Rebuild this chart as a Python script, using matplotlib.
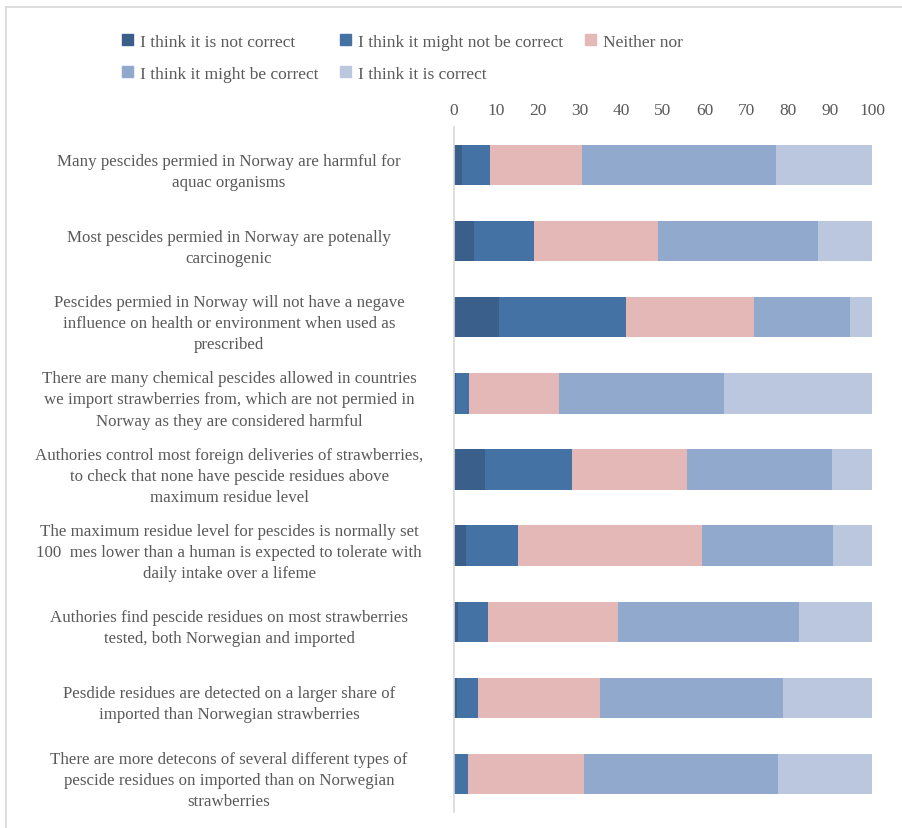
import numpy as np
import matplotlib.pyplot as plt
from matplotlib.patches import Patch
from matplotlib.lines import Line2D

#------------------------------------

statements = [
    "Many pescides permied in Norway are harmful for\naquac organisms",
    "Most pescides permied in Norway are potenally\ncarcinogenic",
    "Pescides permied in Norway will not have a negave\ninfluence on health or environment when used as\nprescribed",
    "There are many chemical pescides allowed in countries\nwe import strawberries from, which are not permied in\nNorway as they are considered harmful",
    "Authories control most foreign deliveries of strawberries,\nto check that none have pescide residues above\nmaximum residue level",
    "The maximum residue level for pescides is normally set\n100  mes lower than a human is expected to tolerate with\ndaily intake over a lifeme",
    "Authories find pescide residues on most strawberries\ntested, both Norwegian and imported",
    "Pesdide residues are detected on a larger share of\nimported than Norwegian strawberries",
    "There are more detecons of several different types of\npescide residues on imported than on Norwegian\nstrawberries",
]

answers = ["I think it is not correct", "I think it might not be correct", "Neither nor",
           "I think it might be correct", "I think it is correct"]

not_correct       = [1.9, 4.8, 10.8, 0.5, 7.4, 2.9, 1.0, 0.7, 0.3]
might_not_correct = [6.7, 14.3, 30.3, 3.1, 20.8, 12.4, 7.1, 5.0, 3.0]
neither           = [22.0, 29.7, 30.7, 21.5, 27.5, 44.0, 31.1, 29.2, 27.8]
might_correct     = [46.4, 38.3, 22.9, 39.5, 34.7, 31.4, 43.3, 43.8, 46.4]
correct           = [23.0, 12.9, 5.3, 35.4, 9.6, 9.3, 17.5, 21.3, 22.5]

colors = ["#3A5F8B", "#4472A5", "#E4B8B7", "#91A9CD", "#BAC7DF"]
grey = "#595959"

plt.rcParams['font.family'] = ['Liberation Serif', 'DejaVu Serif']

fig = plt.figure(figsize=(9.03, 8.29), dpi=100)
W, H = 903, 829
ax = fig.add_axes([454 / W, 1 - 813 / H, (872 - 454) / W, (813 - 128) / H])

series = [not_correct, might_not_correct, neither, might_correct, correct]
y = np.arange(len(statements))
left = np.zeros(len(statements))
handles = []
for vals, c, name in zip(series, colors, answers):
    ax.barh(y, vals, left=left, height=0.53, color=c, label=name)
    left += np.array(vals)
    handles.append(Patch(color=c, label=name))

ax.set_ylim(8.5, -0.5)
ax.set_xlim(0, 100)
ax.set_xticks(np.arange(0, 101, 10))
ax.xaxis.tick_top()
ax.tick_params(axis='x', length=0, pad=6.5, labelsize=12.5, colors=grey)
ax.set_yticks(y)
ax.set_yticklabels([])
ax.tick_params(axis='y', length=0)
for s in ['top', 'right', 'bottom']:
    ax.spines[s].set_visible(False)
ax.spines['left'].set_color('#D9D9D9')
ax.spines['left'].set_linewidth(1.2)

# category labels, centred in the left area
for i, txt in enumerate(statements):
    ax.text(-53.8, i + 0.08, txt, ha='center', va='center', multialignment='center',
            fontsize=12.2, color=grey, linespacing=1.42, clip_on=False)

# legend: row 1 = first three, row 2 = last two
order = [0, 3, 1, 4, 2]
leg = fig.legend([handles[k] for k in order], [answers[k] for k in order],
                 ncol=3, loc='upper left', bbox_to_anchor=(106 / W, 1 - 19 / H),
                 frameon=False, fontsize=12.5, handlelength=0.65, handleheight=0.65,
                 handletextpad=0.4, columnspacing=1.25, labelspacing=0.92)
for t in leg.get_texts():
    t.set_color(grey)

# chart border (top and left)
fig.add_artist(Line2D([6.5 / W, 1], [1 - 8 / H, 1 - 8 / H], color='#D9D9D9', lw=1.2))
fig.add_artist(Line2D([6.5 / W, 6.5 / W], [0, 1 - 8 / H], color='#D9D9D9', lw=1.2))

plt.savefig("out.png", dpi=100)
